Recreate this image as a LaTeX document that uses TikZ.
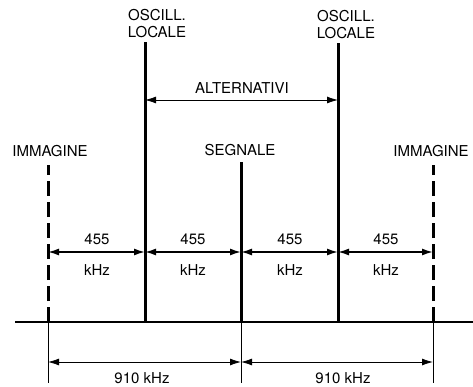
\documentclass[tikz,border=0pt]{standalone}
\usepackage{fontspec}
\setmainfont{TeX Gyre Heros}
\usetikzlibrary{arrows.meta}

\begin{document}
\begin{tikzpicture}[x=1pt,y=-1pt,
  lbl/.style={font=\fontsize{15}{17}\selectfont, inner sep=0pt},
  carrier/.style={line width=3pt},
  image/.style={line width=3pt, dash pattern=on 15pt off 6pt},
  dim/.style={line width=0.8pt},
  twoway/.style={{Latex[length=11pt,width=7pt]}-{Latex[length=11pt,width=7pt]}}]
  \useasboundingbox (0,0) rectangle (473,387);
  % baseline
  \draw[line width=1.5pt] (15,322) coordinate (b0) -- (473,322) coordinate (b1);
  % line feet on the baseline
  \coordinate (imL) at (48,322);
  \coordinate (oscL) at (145,322);
  \coordinate (sig) at (241,322);
  \coordinate (oscR) at (338,322);
  \coordinate (imR) at (433,322);
  % spectral lines
  \draw[image] (imL) -- ++(0,-157) coordinate (imLtop);
  \draw[carrier] (oscL) -- ++(0,-280) coordinate (oscLtop);
  \draw[carrier] (sig) -- ++(0,-160) coordinate (sigtop);
  \draw[carrier] (oscR) -- ++(0,-279) coordinate (oscRtop);
  \draw[image] (imR) -- ++(0,-157) coordinate (imRtop);
  % labels over the lines
  \node[lbl, align=center, above=4pt] (oscLlbl) at (oscLtop -| 157,0) {OSCILL.\\LOCALE};
  \node[lbl, align=center, above=4pt] (oscRlbl) at (oscRtop -| 346,0) {OSCILL.\\LOCALE};
  \node[lbl] (imLlbl) at (50,151) {IMMAGINE};
  \node[lbl] (siglbl) at (240,150) {SEGNALE};
  \node[lbl] (imRlbl) at (431,151) {IMMAGINE};
  % alternative oscillator positions
  \draw[dim, twoway] (oscL |- 0,100) -- (oscR |- 0,100);
  \node[lbl] (alt) at (242,88) {ALTERNATIVI};
  % 455 kHz spacings
  \draw[line width=1.6pt, twoway] (imL |- 0,252) -- (oscL |- 0,252);
  \draw[line width=1.6pt, twoway] (oscL |- 0,252) -- (sig |- 0,252);
  \draw[line width=1.6pt, twoway] (sig |- 0,252) -- (oscR |- 0,252);
  \draw[line width=1.6pt, twoway] (oscR |- 0,252) -- (imR |- 0,252);
  \foreach \x/\n in {97/a, 193/b, 290/c, 386/d} {
    \node[lbl] (f\n) at (\x,239) {455};
    \node[lbl] (k\n) at (\x,270) {kHz};
  }
  % 910 kHz dimensions
  \draw[dim] (imL) -- ++(0,61);
  \draw[dim] (sig) -- ++(0,61);
  \draw[dim] (imR) -- ++(0,61);
  \draw[dim, twoway] (imL |- 0,362) -- (sig |- 0,362);
  \draw[dim, twoway] (sig |- 0,362) -- (imR |- 0,362);
  \node[lbl] (d1) at (142,378) {910 kHz};
  \node[lbl] (d2) at (343,378) {910 kHz};
\end{tikzpicture}
\end{document}
